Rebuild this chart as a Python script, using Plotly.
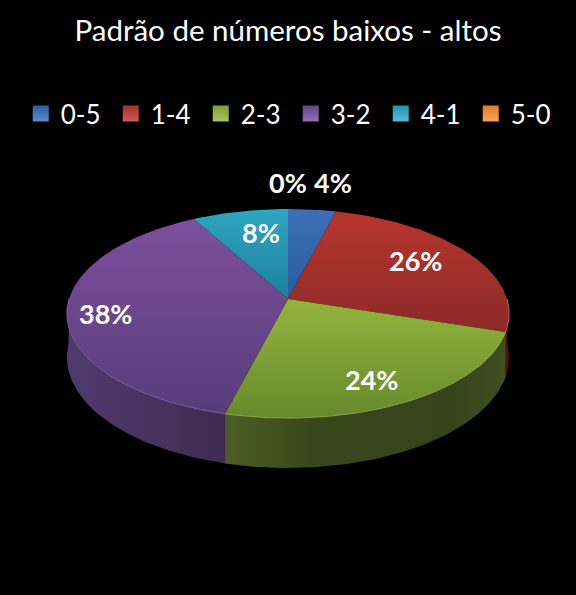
import math
import plotly.graph_objects as go

categories = ["0-5", "1-4", "2-3", "3-2", "4-1", "5-0"]
values = [4, 26, 24, 38, 8, 0]
label_text = ["4%", "26%", "24%", "38%", "8%", "0%"]

# top surface gradient (back, front)
top_colors = [("#3d70b6", "#2a5a9e"), ("#b8352f", "#8c2a27"), ("#93b53d", "#67892c"),
              ("#7d4f9c", "#573d7b"), ("#2fa6c0", "#1f7f9b"), ("#f08a2c", "#c96a1a")]
# side gradient, left to right
side_scales = [
    [[0, "#1c3557"], [1, "#1c3557"]],
    [[0, "#5a1512"], [1, "#3a0f0e"]],
    [[0, "#4d5f26"], [0.3, "#38481a"], [0.8, "#35441a"], [1, "#3f4f22"]],
    [[0, "#4f3a6e"], [0.5, "#48335f"], [1, "#3e2c53"]],
    [[0, "#103c4a"], [1, "#103c4a"]],
    [[0, "#5a3008"], [1, "#5a3008"]],
]
edge_colors = ["#5a86c4", "#c4605c", "#8fa74f", "#7a62a0", "#50b0c8", "#f0a050"]
legend_colors = ["#2f5e9e", "#a52e2b", "#7e9c34", "#5f4487", "#2590ab", "#e07a1f"]
legend_tops = ["#5a8ccc", "#d05a56", "#a8c65c", "#9070b8", "#55bcd6", "#f8a858"]

# perspective of the disc, in page pixels
CX, CY = 288, 299
RX, RY = 219, 102.5
PERSP = 0.139
DEPTH = 43
LABEL_XY = [(333, 182), (415, 260), (371, 379), (105, 313), (261, 232), (288, 182)]


def project(angle, lift=0):
    a = math.radians(angle)
    u, v = math.sin(a), math.cos(a)
    s = 1 / (1 + PERSP * v)
    return CX + RX * u * s, CY - RY * v * s + lift * s


def arc(a0, a1, lift=0):
    n = max(2, int(abs(a1 - a0)) + 2)
    pts = [project(a0 + (a1 - a0) * i / (n - 1), lift) for i in range(n)]
    return [p[0] for p in pts], [p[1] for p in pts]


fig = go.Figure()
total = sum(values)

# sides first
cum = 0
tops = []
for i, val in enumerate(values):
    a0 = cum / total * 360
    a1 = a0 + val / total * 360
    cum += val
    tops.append((a0, a1))
    lo, hi = max(a0, 90), min(a1, 270)
    if val == 0 or lo >= hi:
        continue
    x1, y1 = arc(lo, hi)
    x2, y2 = arc(hi, lo, DEPTH)
    fig.add_trace(go.Scatter(
        x=x1 + x2, y=y1 + y2, mode="lines", fill="toself", line=dict(width=0),
        fillgradient=dict(type="horizontal", colorscale=side_scales[i]),
        hoverinfo="skip", showlegend=False))

for i, (a0, a1) in enumerate(tops):
    if values[i] == 0:
        continue
    ax, ay = arc(a0, a1)
    # y axis is flipped so the gradient runs front to back
    fig.add_trace(go.Scatter(
        x=[CX] + ax + [CX], y=[CY] + ay + [CY], mode="lines", fill="toself", line=dict(width=0),
        fillgradient=dict(type="vertical", colorscale=[[0, top_colors[i][1]], [1, top_colors[i][0]]]),
        hoverinfo="skip", showlegend=False))
    # light rim along the front edge
    lo, hi = max(a0, 90), min(a1, 270)
    if lo < hi:
        ex, ey = arc(lo, hi)
        fig.add_trace(go.Scatter(x=ex, y=ey, mode="lines", line=dict(width=1, color=edge_colors[i]),
                                 hoverinfo="skip", showlegend=False))

# legend only traces
for name, col, top in zip(categories, legend_colors, legend_tops):
    fig.add_trace(go.Scatter(x=[None], y=[None], mode="markers", name=name,
                             marker=dict(symbol="square", size=16, color=col,
                                         gradient=dict(type="vertical", color=top))))

for txt, (lx, ly) in zip(label_text, LABEL_XY):
    fig.add_annotation(x=lx, y=ly, text="<b>" + txt + "</b>", showarrow=False,
                       font=dict(family="Lato", size=27, color="white"))

fig.update_layout(
    width=576, height=595, margin=dict(l=0, r=0, t=0, b=0),
    paper_bgcolor="black", plot_bgcolor="black",
    font=dict(family="Lato", color="white"),
    title=dict(text="Padrão de números baixos - altos", x=0.5, xanchor="center",
               y=0.948, yanchor="middle", font=dict(family="Lato", size=29.5, color="white")),
    legend=dict(orientation="h", x=0.036, y=0.809, xanchor="left", yanchor="middle",
                font=dict(size=26, color="white"), entrywidth=45, bgcolor="rgba(0,0,0,0)"),
    xaxis=dict(range=[0, 576], visible=False, fixedrange=True),
    yaxis=dict(range=[595, 0], visible=False, fixedrange=True),
)

# drop the default page margin so the figure fills the window
fig.write_html("out.html", config=dict(displayModeBar=False),
               post_script="document.body.style.margin='0';document.body.style.background='black';")
